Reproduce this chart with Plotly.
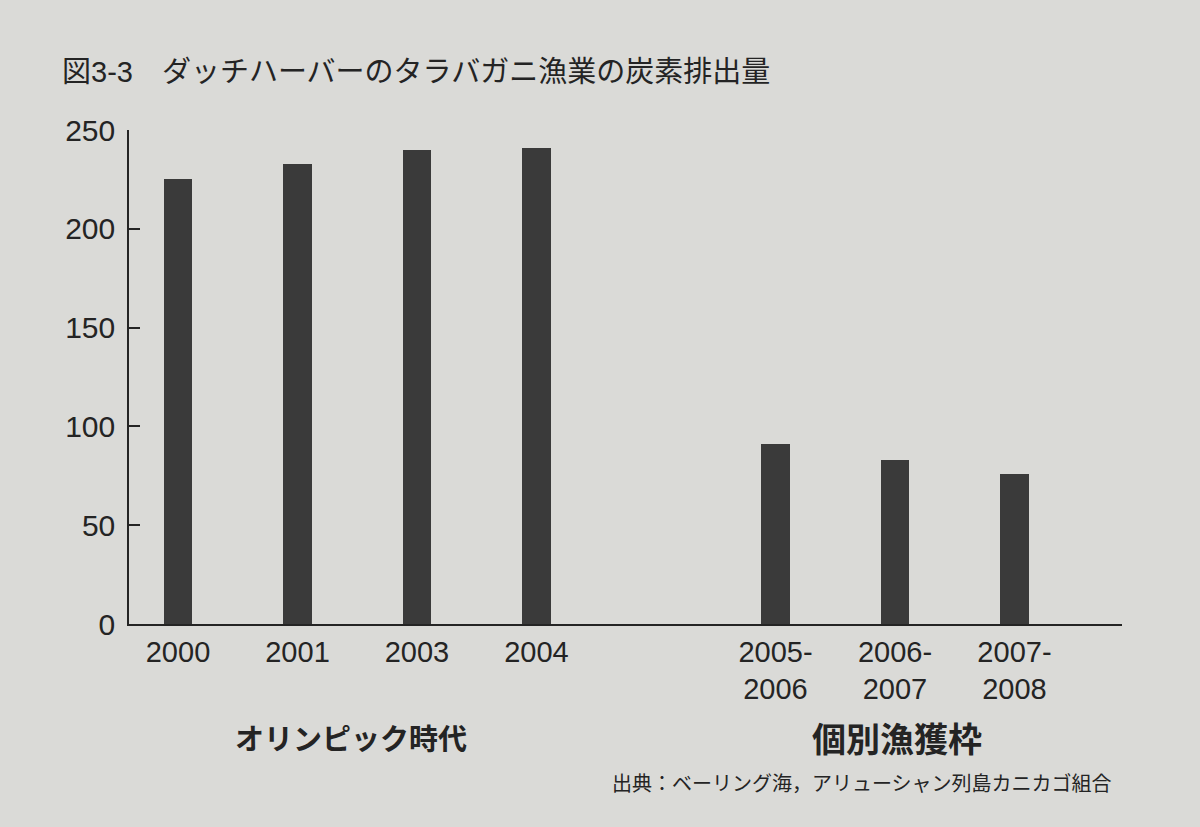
import plotly.graph_objects as go

# 図3-3 ダッチハーバーのタラバガニ漁業の炭素排出量
periods = ["2000", "2001", "2003", "2004", " ", "2005-<br>2006", "2006-<br>2007", "2007-<br>2008"]
bar_periods = ["2000", "2001", "2003", "2004", "2005-<br>2006", "2006-<br>2007", "2007-<br>2008"]
emissions = [225, 233, 240, 241, 91, 83, 76]
y_ticks = [0, 50, 100, 150, 200, 250]

paper = "#dadad7"
ink = "#242424"
bar_col = "#3a3a3a"
jp = "Noto Sans CJK JP, sans-serif"
num = "Liberation Sans, Arial, sans-serif"

fig = go.Figure()
fig.add_trace(go.Bar(
    x=bar_periods, y=emissions,
    marker=dict(color=bar_col, line=dict(width=0)),
    width=0.24,
    showlegend=False,
))

fig.update_layout(
    width=1200, height=827,
    paper_bgcolor=paper, plot_bgcolor=paper,
    margin=dict(l=129, r=78, t=130, b=203),
    title=dict(
        text="図3-3　ダッチハーバーのタラバガニ漁業の炭素排出量",
        x=62 / 1200, xanchor="left", xref="container",
        y=1 - 72 / 827, yanchor="middle", yref="container",
        font=dict(family="Liberation Sans, " + jp, size=29, color=ink),
    ),
    bargap=0.0,
)

fig.update_xaxes(
    type="category", categoryorder="array", categoryarray=periods,
    range=[-0.41, 7.9],
    showline=True, linecolor=ink, linewidth=1.5,
    showgrid=False, zeroline=False, ticks="",
    tickfont=dict(family=num, size=29, color=ink),
    ticklabelstandoff=1,
)
fig.update_yaxes(
    range=[0, 250], tickvals=y_ticks,
    showline=True, linecolor=ink, linewidth=1.5,
    showgrid=False, zeroline=False,
    ticks="inside", ticklen=11, tickwidth=1.5, tickcolor=ink,
    tickfont=dict(family=num, size=30, color=ink),
    ticklabelstandoff=6,
)

fig.add_annotation(
    text="<b>オリンピック時代</b>", xref="x", yref="paper",
    x=1.45, y=(624 - 737) / 494, showarrow=False,
    xanchor="center", yanchor="middle",
    font=dict(family=jp, size=29, color=ink),
)
fig.add_annotation(
    text="<b>個別漁獲枠</b>", xref="x", yref="paper",
    x=6.02, y=(624 - 737) / 494, showarrow=False,
    xanchor="center", yanchor="middle",
    font=dict(family=jp, size=34, color=ink),
)
fig.add_annotation(
    text="出典：ベーリング海，アリューシャン列島カニカゴ組合", xref="paper", yref="paper",
    x=(1114 - 129) / 993, y=(624 - 782) / 494, showarrow=False,
    xanchor="right", yanchor="middle",
    font=dict(family=jp, size=20, color=ink),
)

# drop the page margin so the figure sits at the window's top-left corner
fig.write_html(
    "out.html",
    config={"displayModeBar": False},
    post_script="document.body.style.margin='0';document.body.style.background='%s';" % paper,
)
